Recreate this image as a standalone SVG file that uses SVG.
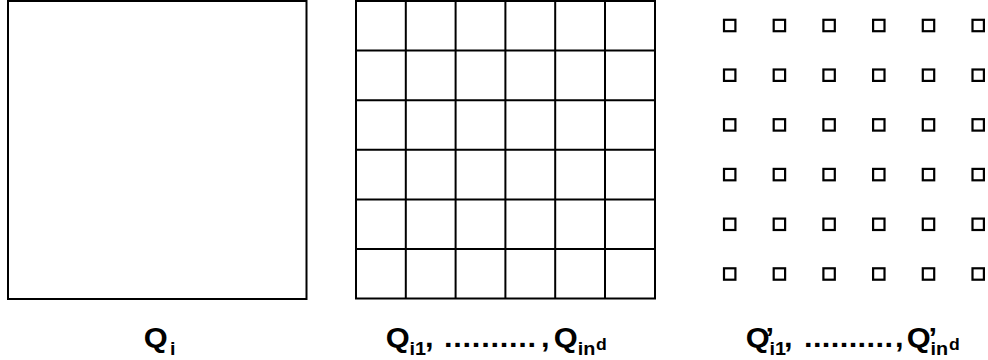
<svg xmlns="http://www.w3.org/2000/svg" width="988" height="360" viewBox="0 0 988 360">
<style>
.ln{fill:none;stroke:#000;stroke-width:2}
.sq{fill:#fff;stroke:#000;stroke-width:2.2}
text{font-family:"Liberation Sans",Arial,sans-serif;font-weight:bold;fill:#000;font-size:28px}
.s{font-size:18px}
.t{font-size:16px}
.d{letter-spacing:0.67px}
.d3{letter-spacing:0.35px}
</style>
<defs>
<rect id="p" x="-5.7" y="-5.7" width="11.4" height="11.4" class="sq"/>
</defs>
<rect width="988" height="360" fill="#fff"/>
<g id="whole">
<rect x="8" y="1" width="298.5" height="298" class="ln"/>
</g>
<g id="grid">
<rect x="356" y="1" width="299" height="297.5" class="ln"/>
<path class="ln" d="M405.8 1V298.5M455.6 1V298.5M505.4 1V298.5M555.2 1V298.5M605 1V298.5M356 50.6H655M356 100.2H655M356 149.8H655M356 199.4H655M356 249H655"/>
</g>
<g id="points">
<use href="#p" x="729.7" y="25.5"/><use href="#p" x="779.4" y="25.5"/><use href="#p" x="829.1" y="25.5"/><use href="#p" x="878.8" y="25.5"/><use href="#p" x="928.5" y="25.5"/><use href="#p" x="978.2" y="25.5"/>
<use href="#p" x="729.7" y="75.2"/><use href="#p" x="779.4" y="75.2"/><use href="#p" x="829.1" y="75.2"/><use href="#p" x="878.8" y="75.2"/><use href="#p" x="928.5" y="75.2"/><use href="#p" x="978.2" y="75.2"/>
<use href="#p" x="729.7" y="124.9"/><use href="#p" x="779.4" y="124.9"/><use href="#p" x="829.1" y="124.9"/><use href="#p" x="878.8" y="124.9"/><use href="#p" x="928.5" y="124.9"/><use href="#p" x="978.2" y="124.9"/>
<use href="#p" x="729.7" y="174.6"/><use href="#p" x="779.4" y="174.6"/><use href="#p" x="829.1" y="174.6"/><use href="#p" x="878.8" y="174.6"/><use href="#p" x="928.5" y="174.6"/><use href="#p" x="978.2" y="174.6"/>
<use href="#p" x="729.7" y="224.3"/><use href="#p" x="779.4" y="224.3"/><use href="#p" x="829.1" y="224.3"/><use href="#p" x="878.8" y="224.3"/><use href="#p" x="928.5" y="224.3"/><use href="#p" x="978.2" y="224.3"/>
<use href="#p" x="729.7" y="274"/><use href="#p" x="779.4" y="274"/><use href="#p" x="829.1" y="274"/><use href="#p" x="878.8" y="274"/><use href="#p" x="928.5" y="274"/><use href="#p" x="978.2" y="274"/>
</g>
<g id="label1" transform="translate(143.7 0) scale(1.1 1)">
<text x="0" y="347.5">Q<tspan class="s" x="24" y="355">i</tspan></text>
</g>
<g id="label2" transform="translate(385.7 0) scale(1.1 1)">
<text x="0" y="347.5">Q<tspan class="s" x="21.6" y="355">i1</tspan><tspan x="35.7" y="347.5">,</tspan><tspan class="d" x="53" y="347.5">..........</tspan><tspan x="141.2" y="347.5">,</tspan><tspan x="152.7" y="347.5">Q</tspan><tspan class="s" x="174.5" y="355">in</tspan><tspan class="t" x="191.2" y="350">d</tspan></text>
</g>
<g id="label3" transform="translate(745.7 0) scale(1.1 1)">
<text x="0" y="347.5">Q<tspan x="18" y="347.5">’</tspan><tspan class="s" x="21.6" y="355">i1</tspan><tspan x="34.8" y="347.5">,</tspan><tspan class="d3" x="53" y="347.5">..........</tspan><tspan x="135.7" y="347.5">,</tspan><tspan x="146.4" y="347.5">Q</tspan><tspan x="166.2" y="347.5">’</tspan><tspan class="s" x="168" y="355">in</tspan><tspan class="t" x="184.8" y="350">d</tspan></text>
</g>
</svg>
